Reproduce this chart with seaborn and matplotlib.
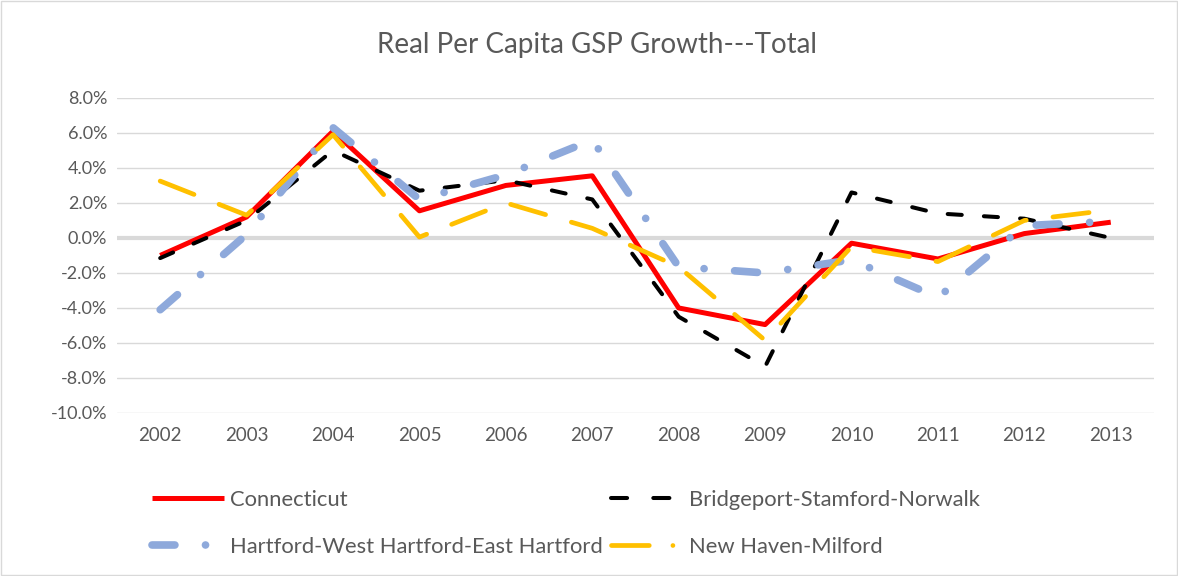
import matplotlib
matplotlib.use("Agg")
import matplotlib.pyplot as plt
from matplotlib.lines import Line2D
import seaborn as sns
import pandas as pd

years = [2002, 2003, 2004, 2005, 2006, 2007, 2008, 2009, 2010, 2011, 2012, 2013]
connecticut = [-1.0, 1.2, 6.1, 1.55, 3.0, 3.55, -4.0, -4.95, -0.3, -1.2, 0.25, 0.9]
bridgeport = [-1.15, 1.0, 5.0, 2.7, 3.3, 2.2, -4.5, -7.35, 2.6, 1.4, 1.1, 0.0]
hartford = [-4.1, 0.2, 6.3, 2.2, 3.6, 5.6, -1.65, -2.0, -1.25, -3.4, 0.7, 0.95]
new_haven = [3.25, 1.3, 5.9, 0.05, 2.0, 0.55, -1.65, -5.85, -0.5, -1.35, 1.0, 1.6]

series_names = ["Connecticut", "Bridgeport-Stamford-Norwalk",
                "Hartford-West Hartford-East Hartford", "New Haven-Milford"]

df = pd.DataFrame({"year": years, series_names[0]: connecticut, series_names[1]: bridgeport,
                   series_names[2]: hartford, series_names[3]: new_haven})
long = df.melt(id_vars="year", var_name="series", value_name="growth")

sns.set_style("white")
plt.rcParams["font.family"] = ["Lato", "DejaVu Sans"]

fig = plt.figure(figsize=(11.78, 5.76), dpi=100)
ax = fig.add_axes([0.0993, 0.283, 0.8803, 0.547])

styles = {
    series_names[0]: dict(color="#FF0000", lw=3.6, ls="-"),
    series_names[1]: dict(color="#000000", lw=2.9, ls=(0, (3.5, 5.5))),
    series_names[2]: dict(color="#8EA9DB", lw=5.5, ls=(0, (3, 4, 0.01, 4))),
    series_names[3]: dict(color="#FFC000", lw=3.4, ls=(0, (7.7, 5.7))),
}

# gridlines first so the lines sit on top
for v in range(-10, 9, 2):
    ax.axhline(v, color="#D9D9D9", lw=1.0 if v != 0 else 3.0, zorder=0)

handles = {}
for name in series_names:
    st = styles[name]
    sub = long[long["series"] == name]
    sns.lineplot(data=sub, x="year", y="growth", ax=ax, color=st["color"], lw=st["lw"],
                 linestyle=st["ls"], dash_capstyle="round", solid_capstyle="butt",
                 label=name, legend=False)
    handles[name] = ax.get_lines()[-1]

# legend swatches drawn like the reference: two black dashes, yellow dash + dot
handles[series_names[1]] = Line2D([], [], color="#000000", lw=2.9, ls=(0, (4, 6.5)),
                                  dash_capstyle="round")
handles[series_names[3]] = Line2D([], [], color="#FFC000", lw=3.4, ls=(0, (8, 5, 0.01, 10)),
                                  dash_capstyle="round")

ax.set_xlim(2001.5, 2013.5)
ax.set_ylim(-10, 8)
ax.set_xticks(years)
ax.set_xticklabels([str(y) for y in years])
ax.set_yticks(range(-10, 9, 2))
ax.set_yticklabels([f"{v:.1f}%" for v in range(-10, 9, 2)])
ax.tick_params(axis="y", length=0, labelsize=13, colors="#595959", pad=7)
ax.tick_params(axis="x", length=0, labelsize=13.5, colors="#595959", pad=10)
ax.set_xlabel("")
ax.set_ylabel("")
for s in ax.spines.values():
    s.set_visible(False)

fig.text(0.507, 0.922, "Real Per Capita GSP Growth---Total", ha="center", va="center",
         fontsize=20, color="#595959")

# column-wise fill: rows become CT | BSN and HWE | NHM
order = [series_names[0], series_names[2], series_names[1], series_names[3]]
fig.legend([handles[n] for n in order], order, ncol=2, loc="upper left",
           bbox_to_anchor=(0.129, 0.150), frameon=False, fontsize=15.8, handlelength=3.3,
           columnspacing=0.4, labelcolor="#595959", handletextpad=0.25, labelspacing=1.25,
           borderpad=0, borderaxespad=0)

fig.patches.append(plt.Rectangle((0.001, 0.001), 0.998, 0.998, transform=fig.transFigure,
                                 fill=False, edgecolor="#D9D9D9", lw=1))

fig.savefig("out.png", dpi=100)
